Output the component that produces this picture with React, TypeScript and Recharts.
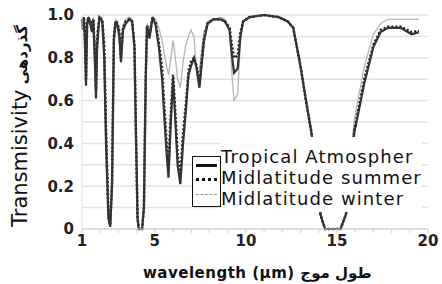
import { LineChart, Line, XAxis, YAxis, CartesianGrid } from "recharts"

// wavelength in µm
const WAVELENGTH = [
  1.0, 1.05, 1.1, 1.15, 1.22, 1.28, 1.35, 1.45, 1.55, 1.62, 1.72, 1.77, 1.83, 1.95, 2.05, 2.12,
  2.22, 2.32, 2.45, 2.55, 2.65, 2.75, 2.85, 2.95, 3.05, 3.14, 3.25, 3.4, 3.6, 3.75, 3.88, 3.95,
  4.05, 4.12, 4.3, 4.4, 4.5, 4.57, 4.7, 4.88, 5.05, 5.22, 5.4, 5.5, 5.65, 5.75, 5.85, 6.0,
  6.1, 6.25, 6.4, 6.55, 6.7, 6.85, 6.98, 7.15, 7.3, 7.45, 7.55, 7.7, 7.9, 8.2, 8.6, 8.85,
  9.1, 9.25, 9.35, 9.55, 9.7, 9.85, 10.2, 11.0, 11.8, 12.3, 12.6, 13.0, 13.3, 13.6, 14.1, 14.35,
  15.2, 15.5, 15.95, 16.5, 17.0, 17.4, 17.8, 18.5, 19.1, 19.5,
]

const TROPICAL = [
  0.97, 0.93, 0.99, 0.9, 0.67, 0.95, 0.99, 0.96, 0.92, 0.98, 0.75, 0.61, 0.85, 0.99, 0.98, 0.96,
  0.8, 0.4, 0.05, 0.01, 0.2, 0.88, 0.97, 0.95, 0.9, 0.78, 0.93, 0.96, 0.98, 0.97, 0.85, 0.5,
  0.05, 0, 0, 0.1, 0.7, 0.95, 0.89, 0.99, 0.95, 0.85, 0.7, 0.55, 0.35, 0.24, 0.45, 0.7,
  0.55, 0.3, 0.21, 0.4, 0.55, 0.72, 0.76, 0.8, 0.75, 0.66, 0.75, 0.88, 0.96, 0.98, 0.98, 0.97,
  0.93, 0.8, 0.73, 0.75, 0.9, 0.97, 0.99, 1.0, 0.99, 0.97, 0.94, 0.76, 0.6, 0.45, 0.065, 0,
  0, 0.07, 0.45, 0.68, 0.85, 0.92, 0.94, 0.94, 0.91, 0.92,
]

const SUMMER = [
  0.98, 0.95, 0.99, 0.93, 0.7, 0.96, 0.99, 0.97, 0.94, 0.98, 0.8, 0.65, 0.88, 0.99, 0.98, 0.97,
  0.85, 0.45, 0.08, 0.02, 0.22, 0.9, 0.97, 0.96, 0.92, 0.8, 0.94, 0.97, 0.98, 0.97, 0.86, 0.52,
  0.05, 0, 0, 0.1, 0.72, 0.95, 0.9, 0.99, 0.96, 0.87, 0.75, 0.6, 0.4, 0.28, 0.5, 0.72,
  0.58, 0.35, 0.25, 0.45, 0.58, 0.74, 0.78, 0.8, 0.76, 0.68, 0.77, 0.89, 0.96, 0.98, 0.98, 0.97,
  0.94, 0.85, 0.8, 0.81, 0.92, 0.97, 0.99, 1.0, 0.99, 0.97, 0.94, 0.76, 0.6, 0.45, 0.065, 0,
  0, 0.07, 0.46, 0.7, 0.86, 0.93, 0.945, 0.945, 0.92, 0.925,
]

const WINTER = [
  0.99, 0.97, 0.99, 0.95, 0.72, 0.97, 0.99, 0.98, 0.96, 0.99, 0.85, 0.7, 0.92, 0.99, 0.99, 0.98,
  0.9, 0.55, 0.12, 0.04, 0.3, 0.93, 0.98, 0.97, 0.94, 0.83, 0.95, 0.98, 0.99, 0.98, 0.88, 0.55,
  0.06, 0, 0, 0.1, 0.75, 0.96, 0.93, 0.99, 0.98, 0.94, 0.88, 0.83, 0.76, 0.72, 0.78, 0.88,
  0.82, 0.7, 0.66, 0.78, 0.86, 0.9, 0.93, 0.9, 0.72, 0.74, 0.82, 0.92, 0.97, 0.98, 0.99, 0.98,
  0.93, 0.7, 0.6, 0.63, 0.88, 0.97, 0.99, 1.0, 0.99, 0.97, 0.94, 0.76, 0.6, 0.45, 0.065, 0,
  0, 0.08, 0.51, 0.76, 0.91, 0.96, 0.98, 0.98, 0.98, 0.98,
]

const X_TICKS = [1, 2, 3, 4, 5, 6, 7, 8, 9, 10, 11, 12, 13, 14, 15, 16, 17, 18, 19, 20]
const X_LABELED = [1, 5, 10, 15, 20]
const Y_TICKS = [0, 0.1, 0.2, 0.3, 0.4, 0.5, 0.6, 0.7, 0.8, 0.9, 1.0]
const LEGEND = ["Tropical Atmospher", "Midlatitude summer", "Midlatitude winter"]

const data = WAVELENGTH.map((w, i) => ({
  w,
  tropical: TROPICAL[i],
  summer: SUMMER[i],
  winter: WINTER[i],
}))

const tickFont = { fontFamily: "DejaVu Sans", fontWeight: "bold", fontSize: 15, fill: "#222" }

function yLabel(v: number) {
  const t = Math.round(v * 10)
  if (t % 2 !== 0) return ""
  if (t === 0) return "0"
  if (t === 10) return "1.0"
  return "0." + t
}

export default function App() {
  return (
    <div style={{ position: "fixed", left: 0, top: 0, width: 442, height: 284, background: "#fff" }}>
      <LineChart width={442} height={284} data={data} margin={{ top: 15, right: 14, bottom: 30, left: 0 }}>
        <CartesianGrid vertical={false} stroke="#e2e2e2" strokeWidth={1.5} />
        <XAxis
          dataKey="w"
          type="number"
          domain={[1, 20]}
          ticks={X_TICKS}
          interval={0}
          height={25}
          tickFormatter={(v) => (X_LABELED.includes(v) ? String(v) : "")}
          tick={tickFont}
          tickSize={4}
          tickLine={{ stroke: "#d0d0d0" }}
          axisLine={{ stroke: "#d0d0d0" }}
        />
        <YAxis
          type="number"
          domain={[0, 1]}
          ticks={Y_TICKS}
          interval={0}
          width={82}
          tickFormatter={yLabel}
          tick={tickFont}
          tickLine={false}
          axisLine={{ stroke: "#e0e0e0" }}
        />
        <Line dataKey="winter" type="linear" stroke="#b5b5b5" strokeWidth={1.3} dot={false} isAnimationActive={false} />
        <Line dataKey="summer" type="linear" stroke="#1a1a1a" strokeWidth={2.5} strokeDasharray="2 2" dot={false} isAnimationActive={false} />
        <Line dataKey="tropical" type="linear" stroke="#333" strokeWidth={2.2} dot={false} isAnimationActive={false} />
      </LineChart>

      {/* y axis title */}
      <div
        style={{
          position: "absolute",
          left: 20,
          top: 126,
          transform: "translate(-50%, -50%) rotate(-90deg)",
          whiteSpace: "nowrap",
          fontFamily: "DejaVu Sans",
          color: "#111",
        }}
      >
        <span style={{ fontSize: 21 }}>Transmisivity</span>{" "}
        <span style={{ fontSize: 15, fontWeight: "bold" }}>گذردهی</span>
      </div>

      {/* x axis title */}
      <div
        style={{
          position: "absolute",
          left: 143,
          top: 264,
          whiteSpace: "nowrap",
          fontFamily: "DejaVu Sans",
          fontWeight: "bold",
          fontSize: 15,
          letterSpacing: 0.5,
          color: "#111",
        }}
      >
        wavelength (µm) <span style={{ letterSpacing: 0 }}>طول موج</span>
      </div>

      {/* legend */}
      <div
        style={{
          position: "absolute",
          left: 192,
          top: 156,
          width: 27,
          height: 49,
          border: "1.5px solid #111",
          background: "#fff",
        }}
      >
        <div style={{ position: "absolute", left: 3, right: 3, top: 7, borderTop: "3px solid #111" }} />
        <div style={{ position: "absolute", left: 3, right: 3, top: 21, borderTop: "3px dotted #111" }} />
        <div style={{ position: "absolute", left: 3, right: 3, top: 37, borderTop: "1px dashed #999" }} />
      </div>
      <div
        style={{
          position: "absolute",
          left: 221,
          top: 137,
          paddingTop: 9,
          paddingBottom: 3,
          background: "#fff",
          fontFamily: "DejaVu Sans",
          fontSize: 18,
          letterSpacing: 1.1,
          lineHeight: "21px",
          color: "#111",
          whiteSpace: "nowrap",
        }}
      >
        {LEGEND.map((t) => (
          <div key={t}>{t}</div>
        ))}
      </div>
    </div>
  )
}
